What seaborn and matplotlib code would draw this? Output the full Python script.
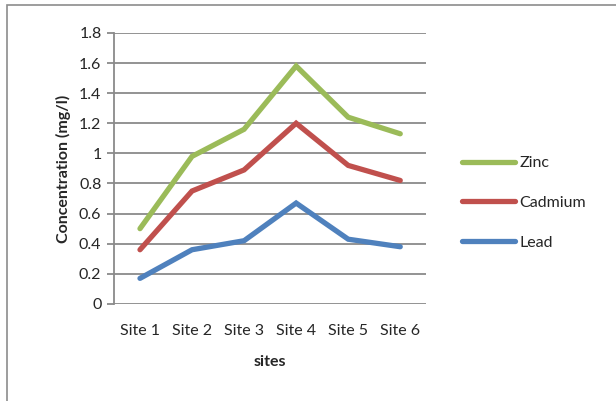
import numpy as np
import pandas as pd
import seaborn as sns
import matplotlib.pyplot as plt
from matplotlib.patches import Rectangle

# data
sites = ['Site 1', 'Site 2', 'Site 3', 'Site 4', 'Site 5', 'Site 6']
zinc = [0.50, 0.98, 1.16, 1.58, 1.24, 1.13]
cadmium = [0.36, 0.75, 0.89, 1.20, 0.92, 0.82]
lead = [0.17, 0.36, 0.42, 0.67, 0.43, 0.38]
metals = ['Zinc', 'Cadmium', 'Lead']
colors = ['#9BBB59', '#C0504D', '#4F81BD']

df = pd.DataFrame({
    'site': sites * 3,
    'value': zinc + cadmium + lead,
    'metal': np.repeat(metals, len(sites)),
})

sns.set_style('white')
plt.rcParams['font.family'] = ['Lato', 'DejaVu Sans']

fig = plt.figure(figsize=(6.16, 4.01), dpi=100)
ax = fig.add_axes([0.185, 0.242, 0.507, 0.676])

sns.lineplot(data=df, x='site', y='value', hue='metal', hue_order=metals,
             palette=colors, linewidth=3.8, sort=False, ax=ax,
             solid_capstyle='round', solid_joinstyle='miter')

grid_c = '#8A8A8A'
fs = 11.5
ax.set_ylim(0, 1.8)
ax.set_yticks(np.arange(0, 1.81, 0.2))
ax.set_yticklabels(['0'] + [f'{v:g}' for v in np.arange(0.2, 1.81, 0.2).round(1)])
ax.set_xlim(-0.5, 5.5)
ax.yaxis.grid(True, color=grid_c, linewidth=1.3)
ax.set_axisbelow(True)
for s in ['top', 'right', 'bottom']:
    ax.spines[s].set_visible(False)
ax.spines['left'].set_color(grid_c)
ax.spines['left'].set_linewidth(1.3)
ax.tick_params(axis='y', left=True, length=5, width=1.3, color=grid_c,
               labelsize=fs, pad=4)
ax.tick_params(axis='x', bottom=False, labelsize=fs, pad=11)

ax.set_xlabel('sites', fontsize=fs, fontweight='bold', labelpad=12)
ax.set_ylabel('Concentration (mg/l)', fontsize=fs, fontweight='bold', labelpad=6)

leg = ax.legend(loc='center left', bbox_to_anchor=(1.114, 0.373), frameon=False,
                fontsize=fs, handlelength=3.3, handletextpad=0.3, labelspacing=1.6,
                borderpad=0, borderaxespad=0, title=None)
for h in leg.get_lines():
    h.set_solid_capstyle('round')

# outer chart frame (only top and left edges visible in the crop)
fig.patches.append(Rectangle((7 / 616, -0.1), 1.2, (401 - 5) / 401 + 0.1,
                             transform=fig.transFigure, fill=False,
                             edgecolor='#8C8C8C', linewidth=1.2))

fig.savefig('out.png', dpi=100)
